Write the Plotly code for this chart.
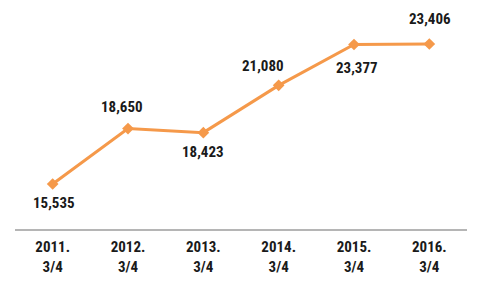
import plotly.graph_objects as go

categories = ["2011.<br>3/4", "2012.<br>3/4", "2013.<br>3/4", "2014.<br>3/4", "2015.<br>3/4", "2016.<br>3/4"]
values = [15535, 18650, 18423, 21080, 23377, 23406]

# label placement (pixel offsets from each point)
label_dx = [1, -6, 0, -16, 3, 1]
label_dy = [-19, 22, -19, 19, -24, 25]

LINE_COLOR = "#F5994A"
FONT = "Liberation Sans Narrow, Arial Narrow, Roboto Condensed, Liberation Sans, sans-serif"
TEXT_COLOR = "#1a1a1a"

fig = go.Figure()
fig.add_trace(go.Scatter(
    x=categories, y=values, mode="lines+markers",
    line=dict(color=LINE_COLOR, width=3),
    marker=dict(symbol="diamond", size=9, color=LINE_COLOR),
    hoverinfo="skip",
))

for c, v, dx, dy in zip(categories, values, label_dx, label_dy):
    fig.add_annotation(
        x=c, y=v, text=f"<b>{v:,}</b>", showarrow=False,
        xshift=dx, yshift=dy,
        font=dict(family=FONT, size=15, color=TEXT_COLOR),
    )

fig.update_layout(
    width=483, height=285,
    margin=dict(l=15, r=16, t=0, b=56),
    paper_bgcolor="white", plot_bgcolor="white",
    showlegend=False,
    font=dict(family=FONT, size=15, color=TEXT_COLOR),
    xaxis=dict(
        type="category", range=[-0.5, 5.5],
        tickvals=categories, ticktext=[f"<b>{c}</b>" for c in categories],
        showline=True, linecolor="#b5b5b5", linewidth=2,
        showgrid=False, zeroline=False, ticks="",
        ticklabelstandoff=3,
        tickfont=dict(family=FONT, size=15, color=TEXT_COLOR),
    ),
    yaxis=dict(range=[13006, 25878], visible=False, showgrid=False, zeroline=False),
)

fig.write_html("out.html")
